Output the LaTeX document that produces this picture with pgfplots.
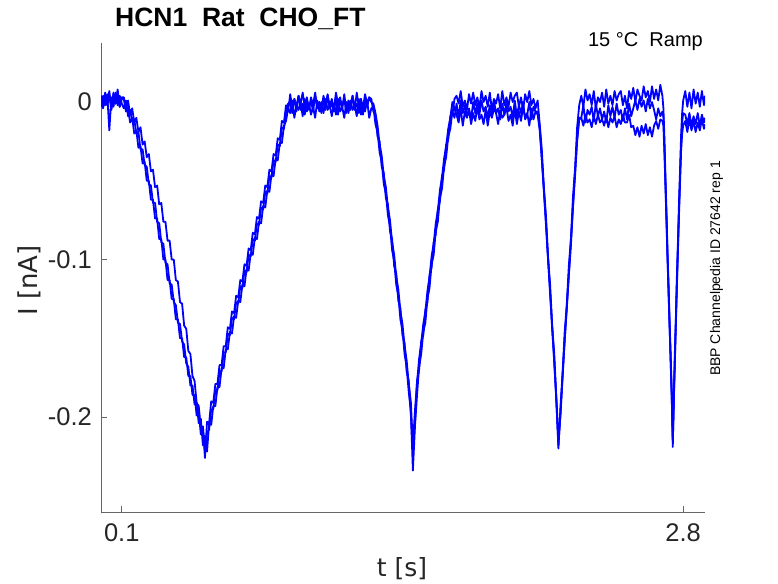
\documentclass[border=0pt]{standalone}
\usepackage{pgfplots}
\pgfplotsset{compat=1.18}
\usepackage{pgfplotstable}
\usepackage{fontspec}
\setmainfont{Liberation Sans}
\newfontfamily\labelfont{DejaVu Sans}

\pgfplotstableread{
t a b c
0.00 0.004 -0.003 0.001
0.01 -0.003 0.004 -0.004
0.02 0.006 -0.002 0.005
0.03 -0.002 0.005 -0.002
0.04 0.007 -0.018 0.004
0.05 -0.004 0.003 -0.005
0.06 0.005 -0.003 0.006
0.07 -0.001 0.006 -0.001
0.08 0.008 -0.002 0.004
0.09 -0.003 0.004 -0.003
0.10 0.003 -0.001 0.002
0.11 0.003 -0.004 0.002
0.12 -0.006 0.001 -0.005
0.13 -0.004 -0.009 0.001
0.14 -0.013 -0.005 -0.008
0.15 -0.010 -0.012 -0.004
0.16 -0.020 -0.011 -0.013
0.17 -0.018 -0.020 -0.010
0.18 -0.029 -0.019 -0.019
0.19 -0.028 -0.030 -0.016
0.20 -0.039 -0.030 -0.027
0.21 -0.038 -0.040 -0.025
0.22 -0.050 -0.041 -0.035
0.23 -0.050 -0.052 -0.033
0.24 -0.062 -0.053 -0.044
0.25 -0.062 -0.064 -0.043
0.26 -0.074 -0.064 -0.054
0.27 -0.074 -0.076 -0.053
0.28 -0.087 -0.077 -0.065
0.29 -0.087 -0.089 -0.064
0.30 -0.100 -0.090 -0.076
0.31 -0.100 -0.102 -0.076
0.32 -0.113 -0.103 -0.088
0.33 -0.113 -0.115 -0.088
0.34 -0.125 -0.116 -0.100
0.35 -0.125 -0.127 -0.100
0.36 -0.138 -0.129 -0.113
0.37 -0.138 -0.140 -0.114
0.38 -0.150 -0.141 -0.127
0.39 -0.150 -0.152 -0.128
0.40 -0.162 -0.154 -0.142
0.41 -0.162 -0.166 -0.144
0.42 -0.174 -0.168 -0.158
0.43 -0.174 -0.180 -0.160
0.44 -0.186 -0.180 -0.174
0.45 -0.186 -0.192 -0.177
0.46 -0.199 -0.191 -0.191
0.47 -0.196 -0.204 -0.193
0.48 -0.211 -0.201 -0.207
0.49 -0.206 -0.218 -0.206
0.50 -0.226 -0.212 -0.222
0.51 -0.203 -0.222 -0.210
0.52 -0.204 -0.204 -0.208
0.53 -0.190 -0.205 -0.195
0.54 -0.191 -0.193 -0.195
0.55 -0.179 -0.193 -0.183
0.56 -0.179 -0.181 -0.183
0.57 -0.167 -0.181 -0.171
0.58 -0.167 -0.169 -0.171
0.59 -0.155 -0.169 -0.159
0.60 -0.155 -0.157 -0.159
0.61 -0.143 -0.157 -0.147
0.62 -0.144 -0.146 -0.148
0.63 -0.133 -0.147 -0.137
0.64 -0.134 -0.136 -0.138
0.65 -0.123 -0.137 -0.127
0.66 -0.124 -0.126 -0.128
0.67 -0.113 -0.127 -0.117
0.68 -0.114 -0.116 -0.118
0.69 -0.103 -0.117 -0.107
0.70 -0.104 -0.106 -0.108
0.71 -0.093 -0.107 -0.097
0.72 -0.094 -0.096 -0.098
0.73 -0.083 -0.097 -0.087
0.74 -0.084 -0.086 -0.088
0.75 -0.073 -0.087 -0.077
0.76 -0.074 -0.076 -0.078
0.77 -0.063 -0.077 -0.067
0.78 -0.064 -0.066 -0.068
0.79 -0.053 -0.067 -0.057
0.80 -0.054 -0.056 -0.058
0.81 -0.043 -0.057 -0.047
0.82 -0.044 -0.046 -0.048
0.83 -0.033 -0.047 -0.037
0.84 -0.034 -0.036 -0.038
0.85 -0.023 -0.037 -0.027
0.86 -0.024 -0.026 -0.028
0.87 -0.012 -0.026 -0.016
0.88 -0.013 -0.015 -0.017
0.89 -0.002 -0.012 -0.006
0.90 -0.006 -0.004 -0.001
0.91 0.005 -0.007 0.000
0.92 -0.004 0.001 -0.007
0.93 0.002 -0.010 0.002
0.94 -0.006 -0.002 -0.003
0.95 0.004 -0.005 0.004
0.96 -0.001 0.000 -0.005
0.97 0.006 -0.009 -0.001
0.98 -0.003 0.002 -0.008
0.99 0.001 -0.006 0.003
1.00 -0.005 -0.001 -0.004
1.01 0.003 -0.008 0.001
1.02 -0.002 -0.003 -0.006
1.03 0.006 -0.010 0.004
1.04 -0.004 0.001 -0.003
1.05 0.000 -0.006 0.000
1.06 -0.006 0.000 -0.007
1.07 0.004 -0.007 0.002
1.08 -0.002 0.002 -0.005
1.09 0.005 -0.005 0.004
1.10 -0.003 -0.002 -0.004
1.11 0.002 -0.009 -0.001
1.12 -0.005 -0.001 -0.006
1.13 0.006 -0.008 0.003
1.14 -0.001 0.002 -0.008
1.15 0.003 -0.006 0.001
1.16 -0.004 -0.003 -0.003
1.17 0.005 -0.010 0.002
1.18 -0.006 0.000 -0.007
1.19 0.001 -0.007 0.000
1.20 -0.002 0.001 -0.005
1.21 0.004 -0.005 0.004
1.22 -0.005 -0.002 -0.004
1.23 0.006 -0.009 -0.001
1.24 -0.003 0.002 -0.007
1.25 0.002 -0.008 0.002
1.26 -0.004 -0.001 -0.008
1.27 0.005 -0.006 0.001
1.28 -0.001 0.001 -0.003
1.29 0.003 -0.010 0.003
1.30 0.002 -0.004 0.000
1.31 -0.006 -0.003 -0.001
1.32 -0.008 -0.014 -0.007
1.33 -0.022 -0.019 -0.015
1.34 -0.025 -0.032 -0.027
1.35 -0.041 -0.038 -0.034
1.36 -0.045 -0.052 -0.047
1.37 -0.061 -0.058 -0.054
1.38 -0.065 -0.072 -0.067
1.39 -0.082 -0.079 -0.075
1.40 -0.087 -0.094 -0.089
1.41 -0.104 -0.101 -0.097
1.42 -0.109 -0.116 -0.111
1.43 -0.126 -0.123 -0.119
1.44 -0.131 -0.138 -0.133
1.45 -0.148 -0.145 -0.141
1.46 -0.153 -0.160 -0.155
1.47 -0.171 -0.168 -0.164
1.48 -0.177 -0.184 -0.179
1.49 -0.198 -0.196 -0.190
1.50 -0.222 -0.234 -0.218
1.51 -0.203 -0.206 -0.196
1.52 -0.177 -0.186 -0.178
1.53 -0.170 -0.168 -0.163
1.54 -0.152 -0.160 -0.153
1.55 -0.148 -0.146 -0.141
1.56 -0.132 -0.140 -0.133
1.57 -0.127 -0.125 -0.120
1.58 -0.110 -0.118 -0.111
1.59 -0.105 -0.103 -0.098
1.60 -0.089 -0.097 -0.090
1.61 -0.084 -0.082 -0.077
1.62 -0.068 -0.076 -0.069
1.63 -0.063 -0.061 -0.056
1.64 -0.047 -0.055 -0.048
1.65 -0.043 -0.041 -0.036
1.66 -0.027 -0.035 -0.028
1.67 -0.024 -0.022 -0.017
1.68 -0.009 -0.017 -0.010
1.69 -0.008 -0.006 0.000
1.70 0.002 -0.010 -0.004
1.71 0.004 -0.001 -0.008
1.72 -0.001 -0.010 -0.013
1.73 0.007 0.001 -0.004
1.74 -0.003 -0.007 -0.015
1.75 0.001 -0.002 -0.006
1.76 -0.005 -0.009 -0.010
1.77 0.005 -0.004 -0.005
1.78 -0.001 -0.011 -0.014
1.79 0.006 0.000 -0.007
1.80 -0.002 -0.007 -0.012
1.81 0.003 -0.001 -0.003
1.82 -0.004 -0.008 -0.011
1.83 0.007 0.001 -0.008
1.84 0.000 -0.006 -0.014
1.85 0.004 -0.003 -0.005
1.86 -0.003 -0.010 -0.015
1.87 0.006 -0.002 -0.006
1.88 -0.005 -0.009 -0.010
1.89 0.002 0.001 -0.004
1.90 -0.001 -0.007 -0.007
1.91 0.005 -0.004 -0.014
1.92 -0.004 -0.011 -0.005
1.93 0.007 -0.001 -0.010
1.94 -0.002 -0.008 -0.008
1.95 0.003 0.000 -0.003
1.96 -0.003 -0.006 -0.012
1.97 0.006 -0.003 -0.008
1.98 0.000 -0.010 -0.015
1.99 0.004 0.001 -0.004
2.00 0.006 -0.009 -0.014
2.01 -0.003 -0.002 -0.006
2.02 0.003 -0.007 -0.012
2.03 -0.005 0.000 -0.003
2.04 0.005 -0.011 -0.010
2.05 0.000 -0.008 -0.007
2.06 0.007 0.000 -0.015
2.07 -0.002 -0.011 -0.004
2.08 0.002 -0.003 -0.011
2.09 -0.004 -0.006 -0.006
2.10 0.001 -0.006 -0.008
2.11 -0.014 -0.016 -0.018
2.12 -0.030 -0.036 -0.036
2.13 -0.054 -0.055 -0.057
2.14 -0.072 -0.078 -0.076
2.15 -0.098 -0.099 -0.100
2.16 -0.116 -0.122 -0.120
2.17 -0.142 -0.143 -0.144
2.18 -0.160 -0.166 -0.164
2.19 -0.189 -0.188 -0.190
2.20 -0.220 -0.214 -0.218
2.21 -0.193 -0.199 -0.197
2.22 -0.172 -0.173 -0.175
2.23 -0.146 -0.152 -0.151
2.24 -0.129 -0.130 -0.132
2.25 -0.104 -0.110 -0.110
2.26 -0.087 -0.088 -0.091
2.27 -0.060 -0.066 -0.067
2.28 -0.042 -0.044 -0.047
2.29 -0.016 -0.023 -0.025
2.30 -0.002 -0.010 -0.011
2.31 0.004 -0.010 -0.010
2.32 -0.003 -0.002 -0.015
2.33 0.008 -0.013 -0.008
2.34 0.001 -0.005 -0.013
2.35 0.005 -0.008 -0.011
2.36 -0.002 -0.003 -0.016
2.37 0.007 -0.012 -0.009
2.38 -0.004 -0.001 -0.014
2.39 0.003 -0.009 -0.008
2.40 0.000 -0.004 -0.013
2.41 0.006 -0.011 -0.011
2.42 -0.003 -0.006 -0.015
2.43 0.008 -0.013 -0.009
2.44 -0.001 -0.002 -0.016
2.45 0.004 -0.009 -0.010
2.46 -0.002 -0.003 -0.013
2.47 0.007 -0.010 -0.009
2.48 0.001 -0.001 -0.016
2.49 0.005 -0.008 -0.011
2.50 0.007 -0.005 -0.014
2.51 -0.002 -0.012 -0.008
2.52 0.004 -0.004 -0.013
2.53 -0.004 -0.011 -0.013
2.54 0.007 -0.001 -0.008
2.55 0.002 -0.009 -0.016
2.56 0.009 -0.004 -0.015
2.57 0.000 0.001 -0.021
2.58 0.008 -0.005 -0.016
2.59 0.004 0.002 -0.022
2.60 0.001 -0.003 -0.015
2.61 0.010 0.001 -0.020
2.62 0.003 -0.006 -0.014
2.63 0.007 0.002 -0.021
2.64 0.000 -0.004 -0.016
2.65 0.010 0.000 -0.022
2.66 0.002 -0.005 -0.015
2.67 0.008 -0.011 -0.012
2.68 0.001 -0.004 -0.017
2.69 0.011 -0.009 -0.011
2.700 0.004 -0.006 -0.012
2.705 -0.004 -0.010 -0.015
2.710 -0.024 -0.029 -0.033
2.715 -0.049 -0.052 -0.055
2.720 -0.071 -0.075 -0.078
2.725 -0.097 -0.099 -0.101
2.730 -0.117 -0.121 -0.123
2.735 -0.141 -0.143 -0.144
2.740 -0.161 -0.165 -0.166
2.745 -0.185 -0.186 -0.188
2.750 -0.213 -0.219 -0.216
2.755 -0.186 -0.188 -0.190
2.760 -0.159 -0.163 -0.165
2.765 -0.136 -0.138 -0.141
2.770 -0.109 -0.114 -0.116
2.775 -0.088 -0.091 -0.094
2.780 -0.063 -0.068 -0.071
2.785 -0.043 -0.047 -0.051
2.790 -0.021 -0.027 -0.031
2.795 -0.007 -0.013 -0.020
2.800 0.001 -0.007 -0.015
2.81 0.007 -0.008 -0.012
2.82 -0.003 -0.014 -0.019
2.83 0.006 -0.007 -0.011
2.84 -0.004 -0.015 -0.018
2.85 0.008 -0.009 -0.012
2.86 -0.001 -0.014 -0.019
2.87 0.006 -0.007 -0.013
2.88 -0.003 -0.015 -0.018
2.89 0.007 -0.008 -0.011
2.90 -0.002 -0.013 -0.017
2.905 0.004 -0.010 -0.014
}\traces

\begin{document}
\begin{tikzpicture}
\useasboundingbox (0,0) rectangle (778pt,583pt);
\begin{axis}[
  name=ax,
  at={(101pt,71pt)}, anchor=south west,
  scale only axis, width=604pt, height=469pt,
  xmin=0, xmax=2.905, ymin=-0.2603, ymax=0.0375,
  axis lines*=left,
  axis line style={-, black!60, line width=0.8pt},
  xtick={0.1,2.8}, xticklabels={0.1,2.8},
  ytick={-0.2,-0.1,0}, yticklabels={-0.2,-0.1,0},
  tick align=inside,
  major tick length=6pt,
  tick style={black!60, line width=0.8pt},
  xticklabel style={font=\fontsize{25.5}{28}\selectfont, text=black!85, anchor=base, inner sep=0pt, yshift=-29.7pt},
  yticklabel style={font=\fontsize{25.5}{28}\selectfont, text=black!85, anchor=east, inner sep=0pt, xshift=-9pt},
  clip=true,
]
\addplot[blue, line width=1.8pt, line join=round] table[x=t,y=c]{\traces};
\addplot[blue, line width=1.8pt, line join=round] table[x=t,y=b]{\traces};
\addplot[blue, line width=1.8pt, line join=round] table[x=t,y=a]{\traces};
\end{axis}
\node[anchor=base west, inner sep=0pt, font=\bfseries\fontsize{26.5}{30}\selectfont]
  at ([xshift=14pt,yshift=16.3pt]ax.north west) {HCN1\ \ Rat\ \ CHO\_FT};
\node[anchor=base east, inner sep=0pt, font=\fontsize{20}{24}\selectfont]
  at ([xshift=-2pt,yshift=-3.7pt]ax.north east) {15 °C\ \ Ramp};
\node[rotate=90, anchor=base, inner sep=0pt, font=\fontsize{14}{16}\selectfont]
  at ([xshift=15pt,yshift=9pt]ax.east) {BBP Channelpedia ID 27642 rep 1};
\node[anchor=base, inner sep=0pt, text=black!85, font=\labelfont\fontsize{25}{28}\selectfont]
  at ([xshift=-1pt,yshift=-64pt]ax.south) {t [s]};
\node[rotate=90, anchor=base, inner sep=0pt, text=black!85, font=\labelfont\fontsize{26}{28}\selectfont]
  at ([xshift=-64pt,yshift=-3pt]ax.west) {I\ [nA]};
\end{tikzpicture}
\end{document}
